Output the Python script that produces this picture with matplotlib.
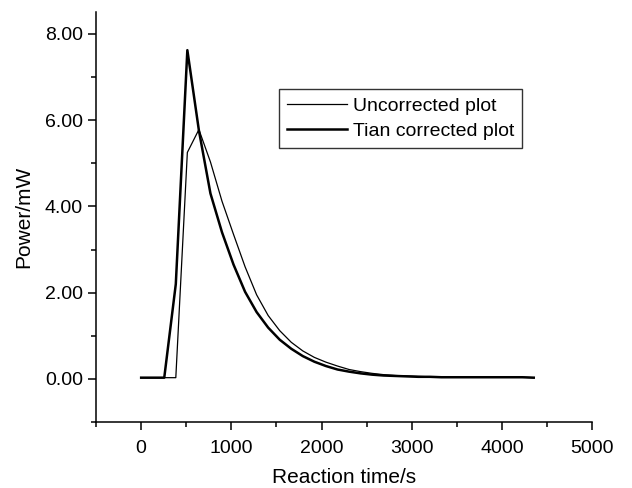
import numpy as np
import matplotlib.pyplot as plt
from matplotlib.ticker import MultipleLocator, FormatStrFormatter

plt.rcParams["font.family"] = ["Liberation Sans", "DejaVu Sans"]

# sampling every 128 s, 0 .. 4352 s
time_s = np.arange(0, 4353, 128)

uncorrected = [
    0.03, 0.03, 0.03, 0.03, 5.25, 5.78, 5.03, 4.12, 3.35, 2.60,
    1.95, 1.47, 1.12, 0.85, 0.65, 0.50, 0.39, 0.30, 0.22, 0.17,
    0.13, 0.10, 0.08, 0.07, 0.06, 0.05, 0.05, 0.05, 0.04, 0.04,
    0.04, 0.04, 0.04, 0.04, 0.03,
]
tian = [
    0.03, 0.03, 0.03, 2.20, 7.62, 5.76, 4.30, 3.40, 2.65, 2.02,
    1.55, 1.19, 0.91, 0.70, 0.53, 0.40, 0.30, 0.22, 0.17, 0.13,
    0.10, 0.08, 0.07, 0.06, 0.05, 0.05, 0.04, 0.04, 0.04, 0.04,
    0.04, 0.04, 0.04, 0.04, 0.03,
]

fig = plt.figure(figsize=(6.32, 4.88), dpi=100)
ax = fig.add_axes([0.152, 0.135, 0.785, 0.84])

ax.plot(time_s, uncorrected, color="black", lw=0.9, label="Uncorrected plot")
ax.plot(time_s, tian, color="black", lw=1.8, label="Tian corrected plot")

ax.set_xlim(-500, 5000)
ax.set_ylim(-1, 8.5)
ax.xaxis.set_major_locator(MultipleLocator(1000))
ax.xaxis.set_minor_locator(MultipleLocator(500))
ax.yaxis.set_major_locator(MultipleLocator(2))
ax.yaxis.set_minor_locator(MultipleLocator(1))
ax.yaxis.set_major_formatter(FormatStrFormatter("%.2f"))

for side in ["top", "right"]:
    ax.spines[side].set_visible(False)
ax.spines["left"].set_linewidth(1.1)
ax.spines["bottom"].set_linewidth(1.1)
ax.tick_params(which="major", direction="out", length=6, width=1.1, labelsize=14)
ax.tick_params(which="minor", direction="out", length=3.5, width=1.1)
ax.tick_params(axis="x", which="major", pad=7)

ax.set_xlabel("Reaction time/s", fontsize=15, labelpad=8)
ax.set_ylabel("Power/mW", fontsize=15, labelpad=8)

leg = ax.legend(loc="upper left", bbox_to_anchor=(0.369, 0.812), fontsize=14,
                frameon=True, fancybox=False, edgecolor="black",
                handlelength=3.1, handletextpad=0.3, borderpad=0.4,
                labelspacing=0.4, borderaxespad=0)
leg.get_frame().set_linewidth(1.0)

fig.savefig("out.png", dpi=100)
